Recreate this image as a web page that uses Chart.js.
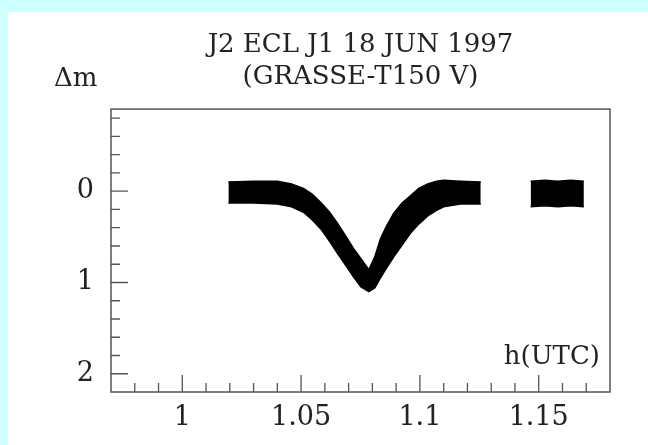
<!DOCTYPE html>
<html lang="en">
<head>
    <meta charset="UTF-8">
    <title>J2 ECL J1 18 JUN 1997</title>
    <script src="https://cdn.jsdelivr.net/npm/chart.js"></script>
    <style>
        body { margin: 0; background: #fff; }
        #topBand { position: absolute; left: 0; top: 0; width: 648px; height: 12px; background: #ccfffe; }
        #leftBand { position: absolute; left: 0; top: 0; width: 8px; height: 445px; background: #ccfffe; }
        #lightCurve { position: absolute; left: 8px; top: 12px; }
    </style>
</head>
<body>
    <div id="topBand"></div>
    <div id="leftBand"></div>
    <canvas id="lightCurve" width="640" height="433"></canvas>

    <script>
        // first run: the scattered band read as its upper and lower edges (hours UTC, delta mag)
        const timeRun1 = [1.0194, 1.030, 1.040, 1.046, 1.051, 1.0545, 1.0582, 1.062, 1.0653, 1.069,
                          1.0721, 1.0752, 1.0785, 1.081, 1.0834, 1.086, 1.089, 1.0925, 1.096, 1.0995,
                          1.1033, 1.107, 1.110, 1.1171, 1.1256];
        const upperRun1 = [-0.10, -0.11, -0.11, -0.08, -0.03, 0.03, 0.12, 0.23, 0.35, 0.50,
                           0.63, 0.74, 0.86, 0.72, 0.52, 0.38, 0.24, 0.13, 0.05, -0.03,
                           -0.08, -0.11, -0.12, -0.11, -0.10];
        const lowerRun1 = [0.13, 0.13, 0.14, 0.17, 0.23, 0.31, 0.41, 0.55, 0.68, 0.82,
                           0.94, 1.05, 1.10, 1.06, 0.95, 0.84, 0.72, 0.59, 0.46, 0.36,
                           0.27, 0.21, 0.17, 0.14, 0.14];

        // second run after the gap
        const timeRun2 = [1.1466, 1.1525, 1.158, 1.1635, 1.169];
        const upperRun2 = [-0.11, -0.12, -0.11, -0.12, -0.11];
        const lowerRun2 = [0.17, 0.16, 0.17, 0.16, 0.17];

        const xLabelTicks = [1, 1.05, 1.1, 1.15];
        const xMinorTicks = [0.98, 0.99, 1.01, 1.02, 1.03, 1.04, 1.06, 1.07, 1.08, 1.09,
                             1.11, 1.12, 1.13, 1.14, 1.16, 1.17];
        const yLabelTicks = [0, 1, 2];
        const yMinorTicks = [-0.8, -0.6, -0.4, -0.2, 0.2, 0.4, 0.6, 0.8, 1.2, 1.4, 1.6, 1.8, 2.0];

        const serif = '"DejaVu Serif", "Liberation Serif", serif';
        const textColor = '#222';

        function toPoints(xs, ys) {
            return xs.map((x, i) => ({ x: x, y: ys[i] }));
        }

        function edge(xs, ys, fill) {
            return {
                data: toPoints(xs, ys),
                showLine: true,
                fill: fill,
                borderColor: '#000',
                backgroundColor: '#000',
                borderWidth: 1.5,
                pointRadius: 0
            };
        }

        // box frame, inward ticks and the two loose labels
        const framePlugin = {
            id: 'frame',
            afterDraw(chart) {
                const ctx = chart.ctx;
                const a = chart.chartArea;
                const xs = chart.scales.x;
                const ys = chart.scales.y;
                ctx.save();
                ctx.strokeStyle = '#555';
                ctx.lineWidth = 1.5;
                ctx.strokeRect(a.left, a.top, a.right - a.left, a.bottom - a.top);

                ctx.lineWidth = 1.3;
                ctx.beginPath();
                xLabelTicks.forEach(v => {
                    const px = xs.getPixelForValue(v);
                    ctx.moveTo(px, a.bottom); ctx.lineTo(px, a.bottom - 17);
                });
                xMinorTicks.forEach(v => {
                    const px = xs.getPixelForValue(v);
                    ctx.moveTo(px, a.bottom); ctx.lineTo(px, a.bottom - 9);
                });
                yLabelTicks.forEach(v => {
                    const py = ys.getPixelForValue(v);
                    ctx.moveTo(a.left, py); ctx.lineTo(a.left + 17, py);
                });
                yMinorTicks.forEach(v => {
                    const py = ys.getPixelForValue(v);
                    ctx.moveTo(a.left, py); ctx.lineTo(a.left + 9, py);
                });
                ctx.stroke();

                ctx.fillStyle = textColor;
                ctx.font = '26px ' + serif;
                ctx.textBaseline = 'alphabetic';
                ctx.textAlign = 'left';
                ctx.fillText('Δm', 46, 74);
                ctx.textAlign = 'right';
                ctx.fillText('h(UTC)', a.right - 10, a.bottom - 28);
                ctx.restore();
            }
        };

        const ctx = document.getElementById('lightCurve').getContext('2d');
        new Chart(ctx, {
            type: 'scatter',
            data: {
                datasets: [
                    edge(timeRun1, upperRun1, '+1'),
                    edge(timeRun1, lowerRun1, false),
                    edge(timeRun2, upperRun2, '+1'),
                    edge(timeRun2, lowerRun2, false)
                ]
            },
            options: {
                responsive: false,
                animation: false,
                devicePixelRatio: 1,
                layout: { padding: { left: 0, top: 0, right: 38, bottom: 0 } },
                plugins: {
                    legend: { display: false },
                    tooltip: { enabled: false },
                    title: {
                        display: true,
                        fullSize: false,
                        text: ['J2 ECL J1 18 JUN 1997', '(GRASSE-T150 V)'],
                        color: textColor,
                        font: { family: serif, size: 26, weight: 'normal', lineHeight: 1.24 },
                        padding: { top: 17, bottom: 15.6 }
                    }
                },
                scales: {
                    x: {
                        type: 'linear',
                        min: 0.97,
                        max: 1.18,
                        grid: { display: false, drawTicks: false },
                        border: { display: false },
                        afterBuildTicks: scale => { scale.ticks = xLabelTicks.map(v => ({ value: v })); },
                        afterFit: scale => { scale.height = 53; },
                        ticks: {
                            color: textColor,
                            padding: 10,
                            maxRotation: 0,
                            font: { family: serif, size: 27 },
                            callback: v => String(v)
                        }
                    },
                    y: {
                        type: 'linear',
                        reverse: true,
                        min: -0.9,
                        max: 2.2,
                        grid: { display: false, drawTicks: false },
                        border: { display: false },
                        afterBuildTicks: scale => { scale.ticks = yLabelTicks.map(v => ({ value: v })); },
                        afterFit: scale => { scale.width = 103; },
                        ticks: {
                            color: textColor,
                            padding: 17,
                            font: { family: serif, size: 27 },
                            callback: v => String(v)
                        }
                    }
                }
            },
            plugins: [framePlugin]
        });
    </script>
</body>
</html>
